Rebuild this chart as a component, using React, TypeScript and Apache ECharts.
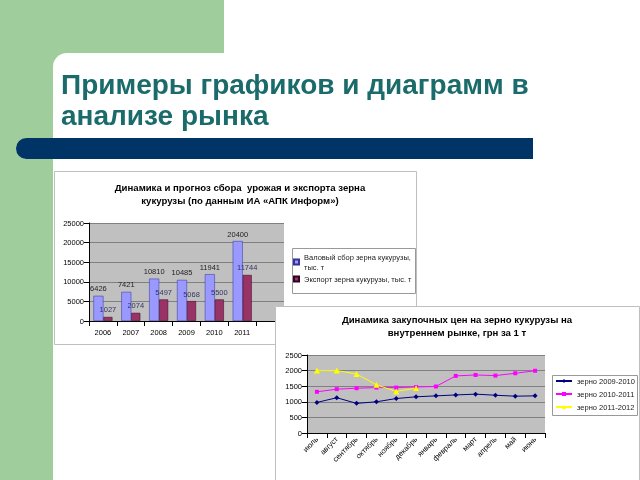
import React, { useEffect, useRef } from "react";
import * as echarts from "echarts";

const slideTitle = ["Примеры графиков и диаграмм в", "анализе рынка"];

const years = ["2006", "2007", "2008", "2009", "2010", "2011", ""];
const harvest = [6426, 7421, 10810, 10485, 11941, 20400];
const exportVals = [1027, 2074, 5497, 5068, 5500, 11744];
const harvestName = "Валовый сбор зерна кукурузы, тыс. т";
const exportName = "Экспорт зерна кукурузы, тыс. т";
const chart1Title = "Динамика и прогноз сбора  урожая и экспорта зерна\nкукурузы (по данным ИА «АПК Информ»)";

const months = ["июль", "август", "сентябрь", "октябрь", "ноябрь", "декабрь", "январь", "февраль", "март", "апрель", "май", "июнь"];
const grain0910 = [980, 1130, 950, 1000, 1105, 1160, 1190, 1220, 1245, 1210, 1180, 1190];
const grain1011 = [1320, 1405, 1435, 1455, 1455, 1475, 1490, 1830, 1860, 1840, 1915, 1995];
const grain1112 = [2000, 2000, 1890, 1545, 1330, 1440];
const chart2Title = "Динамика закупочных цен на зерно кукурузы на\nвнутреннем рынке, грн за 1 т";

const FONT = "Liberation Sans";
const plain = (v: number) => String(v);

function useChart(ref: React.RefObject<HTMLDivElement | null>, option: any) {
  useEffect(() => {
    if (!ref.current) return;
    const c = echarts.init(ref.current, undefined, { renderer: "svg" });
    c.setOption(option);
    return () => c.dispose();
  }, []);
}

export default function App() {
  const bgRef = useRef<HTMLDivElement>(null);
  const c1Ref = useRef<HTMLDivElement>(null);
  const c2Ref = useRef<HTMLDivElement>(null);

  useChart(bgRef, {
    animation: false,
    graphic: [
      { type: "rect", shape: { x: 0, y: 0, width: 640, height: 480 }, style: { fill: "#ffffff" } },
      { type: "rect", shape: { x: 0, y: 0, width: 224, height: 80 }, style: { fill: "#9fcd9c" } },
      { type: "rect", shape: { x: 0, y: 0, width: 53, height: 480 }, style: { fill: "#9fcd9c" } },
      { type: "rect", shape: { x: 53, y: 53, width: 600, height: 440, r: [14, 0, 0, 0] }, style: { fill: "#ffffff" } },
      { type: "rect", shape: { x: 16, y: 138, width: 517, height: 21, r: [10.5, 0, 0, 10.5] }, style: { fill: "#003366" } },
      {
        type: "text", x: 61, y: 69,
        style: { text: slideTitle.join("\n"), fill: "#1b6b6b", font: `bold 28px "${FONT}"`, lineHeight: 31 },
      },
    ],
  });

  useChart(c1Ref, {
    animation: false,
    backgroundColor: "#ffffff",
    textStyle: { fontFamily: FONT },
    title: {
      text: chart1Title, left: 181, top: 5, textAlign: "center",
      textStyle: { fontSize: 9.6, fontWeight: "bold", color: "#000", lineHeight: 13, fontFamily: FONT },
    },
    graphic: [
      { type: "rect", shape: { x: 0.5, y: 0.5, width: 362, height: 173 }, style: { fill: "none", stroke: "#bfbfbf", lineWidth: 1 } },
      { type: "rect", shape: { x: 238.5, y: 77.5, width: 123, height: 45 }, style: { fill: "none", stroke: "#999", lineWidth: 1 } },
    ],
    legend: {
      orient: "vertical", left: 239, top: 81, padding: 0, itemWidth: 5, itemHeight: 5, itemGap: 2,
      icon: "rect",
      data: [harvestName, exportName],
      formatter: (n: string) => (n === harvestName ? "Валовый сбор зерна кукурузы,\nтыс. т" : n),
      textStyle: { fontSize: 7.5, color: "#222", fontFamily: FONT, lineHeight: 10 },
    },
    grid: { left: 35, top: 52, right: 133, bottom: 24, show: true, backgroundColor: "#c0c0c0", borderWidth: 0 },
    xAxis: {
      type: "category", data: years,
      axisLine: { lineStyle: { color: "#000" } }, axisTick: { show: true, lineStyle: { color: "#000" } },
      axisLabel: { fontSize: 7.5, color: "#000", margin: 7 },
    },
    yAxis: {
      type: "value", min: 0, max: 25000, interval: 5000,
      axisLine: { show: true, lineStyle: { color: "#000" } }, axisTick: { show: true, lineStyle: { color: "#000" } },
      axisLabel: { fontSize: 7.5, color: "#000", margin: 5, formatter: plain },
      splitLine: { lineStyle: { color: "#808080" } },
    },
    series: [
      {
        name: harvestName, type: "bar", data: harvest, barWidth: 10, barGap: "0%",
        itemStyle: { color: "#9999ff", borderColor: "#333399", borderWidth: 0.5 },
        label: { show: true, position: "top", distance: 3, fontSize: 7.5, color: "#222" },
      },
      {
        name: exportName, type: "bar", data: exportVals, barWidth: 9,
        itemStyle: { color: "#993366", borderColor: "#330022", borderWidth: 0.5 },
        label: { show: true, position: "top", distance: 3, fontSize: 7.5, color: "#333366" },
      },
    ],
  });

  useChart(c2Ref, {
    animation: false,
    backgroundColor: "#ffffff",
    textStyle: { fontFamily: FONT },
    title: {
      text: chart2Title, left: 177, top: 2, textAlign: "center",
      textStyle: { fontSize: 9.6, fontWeight: "bold", color: "#000", lineHeight: 13, fontFamily: FONT },
    },
    graphic: [
      { type: "rect", shape: { x: 0.5, y: 0.5, width: 364, height: 180 }, style: { fill: "none", stroke: "#bfbfbf", lineWidth: 1 } },
      { type: "rect", shape: { x: 277.5, y: 69.5, width: 85, height: 40 }, style: { fill: "none", stroke: "#999", lineWidth: 1 } },
    ],
    legend: {
      orient: "vertical", left: 280, top: 71, padding: 0, itemWidth: 16, itemHeight: 5, itemGap: 5,
      textStyle: { fontSize: 7.5, color: "#222", fontFamily: FONT },
    },
    grid: { left: 32, top: 49, right: 95, bottom: 47, show: true, backgroundColor: "#c0c0c0", borderWidth: 0 },
    xAxis: {
      type: "category", data: months, boundaryGap: true,
      axisLine: { lineStyle: { color: "#000" } }, axisTick: { show: true, lineStyle: { color: "#000" } },
      axisLabel: { fontSize: 7.5, color: "#000", rotate: 45, interval: 0, margin: 5 },
    },
    yAxis: {
      type: "value", min: 0, max: 2500, interval: 500,
      axisLine: { show: true, lineStyle: { color: "#000" } }, axisTick: { show: true, lineStyle: { color: "#000" } },
      axisLabel: { fontSize: 7.5, color: "#000", margin: 5, formatter: plain },
      splitLine: { lineStyle: { color: "#808080" } },
    },
    series: [
      {
        name: "зерно 2009-2010", type: "line", data: grain0910, symbol: "diamond", symbolSize: 5,
        lineStyle: { color: "#000080", width: 1 }, itemStyle: { color: "#000080" },
      },
      {
        name: "зерно 2010-2011", type: "line", data: grain1011, symbol: "rect", symbolSize: 4,
        lineStyle: { color: "#ff00ff", width: 1 }, itemStyle: { color: "#ff00ff" },
      },
      {
        name: "зерно 2011-2012", type: "line", data: grain1112, symbol: "triangle", symbolSize: 6,
        lineStyle: { color: "#ffff00", width: 1 }, itemStyle: { color: "#ffff00" },
      },
    ],
  });

  return (
    <div style={{ position: "fixed", left: 0, top: 0, width: 640, height: 480, overflow: "hidden" }}>
      <div ref={bgRef} style={{ position: "absolute", left: 0, top: 0, width: 640, height: 480 }} />
      <div ref={c1Ref} style={{ position: "absolute", left: 54, top: 171, width: 363, height: 174 }} />
      <div ref={c2Ref} style={{ position: "absolute", left: 275, top: 306, width: 365, height: 174 }} />
    </div>
  );
}
